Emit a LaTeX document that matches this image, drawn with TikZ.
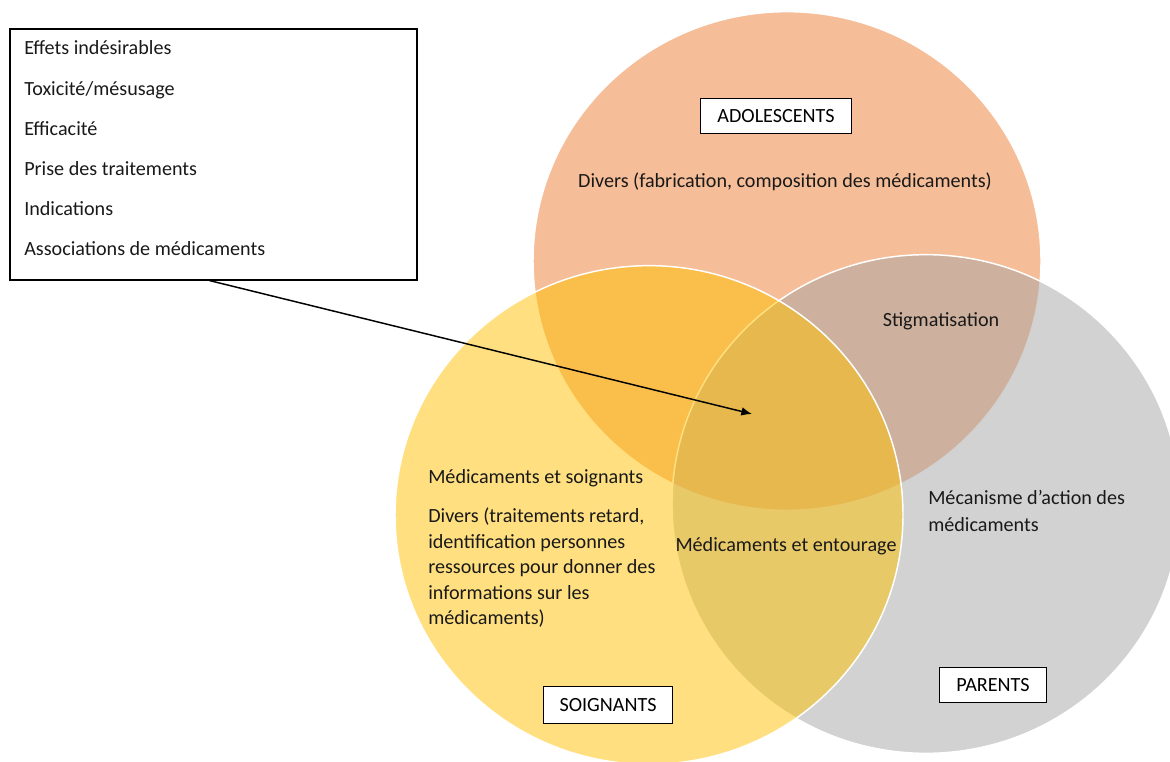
\documentclass[tikz,border=0pt]{standalone}
\usepackage{fontspec}
\setmainfont{Carlito}
\usetikzlibrary{arrows.meta, positioning}
\definecolor{adolorange}{RGB}{237,125,49}
\definecolor{soigngold}{RGB}{255,192,0}
\definecolor{parentgray}{RGB}{165,165,165}
\tikzset{
  venn/.style={fill opacity=0.5, draw=white, line width=1.1pt},
  grouplabel/.style={draw=black, fill=white, line width=1pt, inner sep=0pt, minimum height=26pt},
  topic/.style={inner sep=0pt, align=left, text=black!90},
}
\begin{document}
\begin{tikzpicture}[x=0.75pt, y=-0.75pt, font=\fontsize{15.1}{19.1}\selectfont]
      \useasboundingbox (0,0) rectangle (1170,762);
      % Three sets
      \draw[venn, fill=adolorange] (787,261) ellipse [x radius=190.5pt, y radius=187pt];
      \draw[venn, fill=parentgray] (926,504) ellipse [x radius=190.5pt, y radius=187pt];
      \draw[venn, fill=soigngold] (649,515) ellipse [x radius=190.5pt, y radius=187pt];
      % Group labels
      \node[grouplabel, minimum width=113pt] (adol) at (776,116) {ADOLESCENTS};
      \node[grouplabel, minimum width=97pt, minimum height=28pt] (soign) at (608,705) {SOIGNANTS};
      \node[grouplabel, minimum width=80pt] (parents) at (993,685) {PARENTS};
      % Topics
      \node[topic, anchor=base] (fabric) at (785,188) {Divers (fabrication, composition des médicaments)};
      \node[topic, anchor=base] (stigma) at (941,327) {Stigmatisation};
      \node[topic, anchor=base west] (soignmed) at (428,483) {Médicaments et soignants};
      \node[topic, anchor=north west] (soigndiv) at (428,508) {Divers (traitements retard,\\identification personnes\\ressources pour donner des\\informations sur les\\médicaments)};
      \node[topic, anchor=base] (entour) at (786,551) {Médicaments et entourage};
      \node[topic, anchor=north west, font=\fontsize{15.1}{20.25}\selectfont] (mecan) at (928,490) {Mécanisme d’action des\\médicaments};
      % Common topics box
      \node[draw, line width=1.1pt, minimum width=305pt, minimum height=188pt, inner sep=0pt] (infos) at (213.5,154.5) {};
      \foreach \entry [count=\i] in {Effets indésirables, Toxicité/mésusage, Efficacité, Prise des traitements, Indications, Associations de médicaments}
        \node[topic, anchor=base west] (item\i) at (24,14.8+40.2*\i) {\entry};
      \coordinate (hub) at (752,414);
      \draw[line width=1.1pt, -{Latex[length=8pt,width=6.5pt]}] ([xshift=-3pt]infos.south) -- (hub);
    \end{tikzpicture}
\end{document}
